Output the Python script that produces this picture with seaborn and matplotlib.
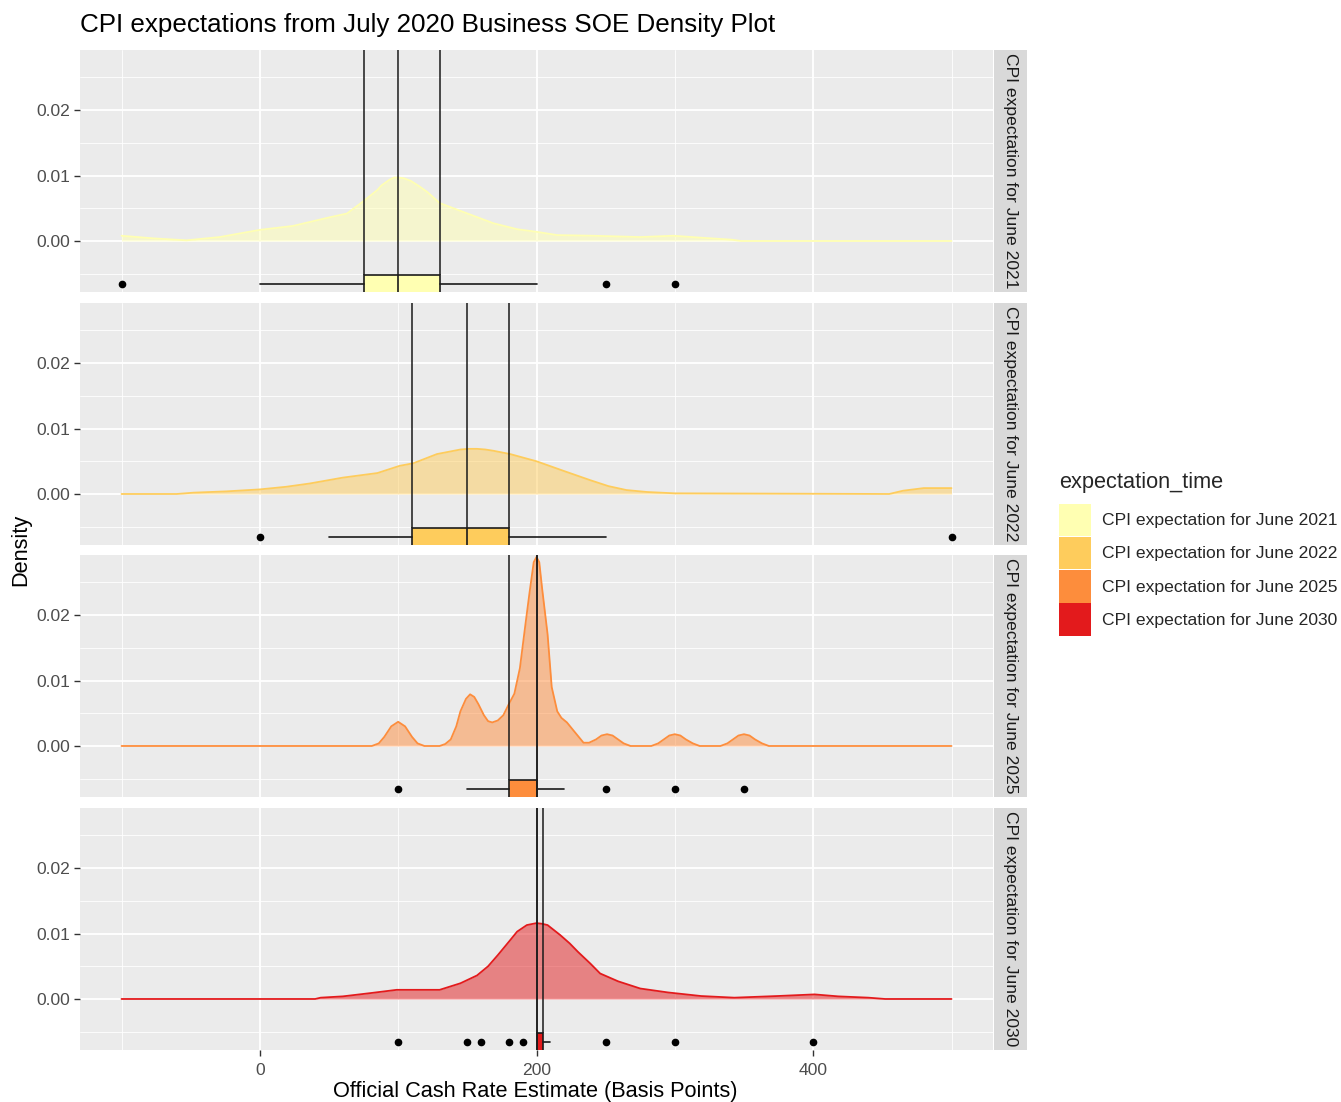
import numpy as np
import pandas as pd
import matplotlib
matplotlib.use('Agg')
import matplotlib.pyplot as plt
from matplotlib.patches import Patch
import seaborn as sns

# density curves (x in basis points, y density)
x_2021 = [-100, -77, -53, -29, 0, 24, 48, 63, 75, 85, 88, 94, 97, 100, 104, 109, 115, 121, 130, 145, 169, 186, 200, 215, 241, 275, 299, 319, 341, 348, 400, 500]
d_2021 = [0.0008, 0.0004, 0.0001, 0.0006, 0.0017, 0.0023, 0.0035, 0.0042, 0.0061, 0.0078, 0.0085, 0.0094, 0.0097, 0.0097, 0.0096, 0.0092, 0.0084, 0.0075, 0.0058, 0.0046, 0.0027, 0.0018, 0.0014, 0.0009, 0.0008, 0.0006, 0.0008, 0.0005, 0.0002, 0.0, 0.0, 0.0]

x_2022 = [-100, -60, -48, -24, 0, 19, 36, 60, 85, 101, 111, 128, 145, 151, 157, 163, 169, 181, 200, 220, 239, 252, 265, 280, 300, 455, 465, 480, 500]
d_2022 = [0.0, 0.0, 0.0002, 0.0004, 0.0007, 0.0011, 0.0016, 0.0025, 0.0032, 0.0043, 0.0047, 0.0061, 0.0068, 0.0069, 0.0069, 0.0068, 0.0066, 0.0061, 0.0050, 0.0035, 0.0021, 0.0012, 0.0006, 0.0003, 0.0001, 0.0, 0.0005, 0.0009, 0.0009]

x_2025 = [-100, 81, 86, 90, 95, 100, 105, 110, 114, 119,
          130, 134, 138, 142, 145, 149, 152, 155, 158, 162, 165, 168, 172, 176, 180, 184, 188, 192, 195, 198, 200,
          202, 204, 208, 211, 215, 218, 222, 227, 234, 238,
          243, 247, 251, 255, 259, 263, 268,
          283, 288, 292, 296, 300, 304, 308, 313, 318,
          333, 338, 342, 346, 350, 354, 358, 363, 368, 500]
d_2025 = [0.0, 0.0, 0.0004, 0.0014, 0.0030, 0.0037, 0.0030, 0.0014, 0.0004, 0.0,
          0.0, 0.0003, 0.0010, 0.0030, 0.0053, 0.0072, 0.0079, 0.0075, 0.0064, 0.0047, 0.0038, 0.0036, 0.0039, 0.0047, 0.0064, 0.0080, 0.0119, 0.0186, 0.0235, 0.0281, 0.0289,
          0.0281, 0.0242, 0.0171, 0.0090, 0.0053, 0.0043, 0.0036, 0.0023, 0.0005, 0.0005,
          0.0010, 0.0016, 0.0018, 0.0016, 0.0010, 0.0004, 0.0,
          0.0, 0.0004, 0.0010, 0.0016, 0.0018, 0.0016, 0.0010, 0.0004, 0.0,
          0.0, 0.0004, 0.0010, 0.0016, 0.0018, 0.0016, 0.0010, 0.0004, 0.0, 0.0]

x_2030 = [-100, 40, 44, 60, 80, 99, 130, 145, 157, 165, 172, 181, 186, 193, 200, 204, 208, 217, 224, 230, 239, 246, 259, 275, 295, 319, 343, 374, 401, 418, 440, 452, 500]
d_2030 = [0.0, 0.0, 0.0002, 0.0004, 0.0009, 0.0014, 0.0014, 0.0024, 0.0036, 0.0050, 0.0067, 0.0090, 0.0103, 0.0113, 0.0116, 0.0115, 0.0113, 0.0098, 0.0085, 0.0072, 0.0054, 0.0039, 0.0027, 0.0016, 0.0010, 0.00045, 0.0002, 0.00045, 0.0007, 0.0004, 0.0002, 0.0, 0.0]

# boxplot summaries: q1, median, q3, whisker low, whisker high, outliers
box_q1 = [75, 110, 180, 200]
box_med = [100, 150, 200, 200]
box_q3 = [130, 180, 200, 205]
box_lo = [0, 50, 150, 200]
box_hi = [200, 250, 220, 210]
box_out = [[-100, 250, 300],
           [0, 500],
           [100, 250, 300, 350],
           [100, 150, 160, 180, 190, 250, 300, 400]]

labels = ['CPI expectation for June 2021', 'CPI expectation for June 2022',
          'CPI expectation for June 2025', 'CPI expectation for June 2030']
colors = ['#FFFFB2', '#FECC5C', '#FD8D3C', '#E31A1C']
xs = [x_2021, x_2022, x_2025, x_2030]
ds = [d_2021, d_2022, d_2025, d_2030]

sns.set_theme(style='darkgrid')
plt.rcParams['font.family'] = ['Liberation Sans', 'DejaVu Sans']

W, H = 1341, 1102
fig = plt.figure(figsize=(W / 100, H / 100), dpi=100, facecolor='white')

ylim = (-0.0078, 0.0292)
box_y = -0.0066
box_w = 0.0028
panel_tops = [50, 303, 555, 808]
ph = 242

for i in range(4):
    top = panel_tops[i]
    ax = fig.add_axes([80 / W, 1 - (top + ph) / H, (993 - 80) / W, ph / H])
    ax.set_facecolor('#EBEBEB')
    for s in ax.spines.values():
        s.set_visible(False)

    df = pd.DataFrame({'x': xs[i], 'density': ds[i]})
    ax.fill_between(df['x'], df['density'], 0, color=colors[i], alpha=0.5, lw=0, zorder=2)
    sns.lineplot(data=df, x='x', y='density', ax=ax, color=colors[i], lw=1.3, zorder=3)

    # boxplot below the density
    stats = [dict(med=box_med[i], q1=box_q1[i], q3=box_q3[i],
                  whislo=box_lo[i], whishi=box_hi[i], fliers=box_out[i])]
    ax.bxp(stats, positions=[box_y], widths=box_w, orientation='horizontal',
           patch_artist=True, showcaps=False, manage_ticks=False,
           boxprops=dict(facecolor=colors[i], edgecolor='#1A1A1A', lw=1.2),
           medianprops=dict(color='#1A1A1A', lw=1.2),
           whiskerprops=dict(color='#1A1A1A', lw=1.2),
           flierprops=dict(marker='o', markersize=4.5, markerfacecolor='black',
                           markeredgecolor='black'))
    ax.vlines([box_q1[i], box_med[i], box_q3[i]], box_y + box_w / 2, ylim[1],
              color='#1A1A1A', lw=1.1, zorder=4)

    ax.set_xlim(-130, 530)
    ax.set_ylim(*ylim)
    ax.set_xticks([0, 200, 400])
    ax.set_xticks([-100, 100, 300, 500], minor=True)
    ax.set_yticks([0, 0.01, 0.02])
    ax.set_yticks([-0.005, 0.005, 0.015, 0.025], minor=True)
    ax.set_yticklabels(['0.00', '0.01', '0.02'])
    ax.grid(which='major', color='white', lw=1.3)
    ax.grid(which='minor', color='white', lw=0.6)
    ax.tick_params(which='minor', length=0)
    ax.tick_params(axis='y', which='major', length=4, width=1, color='#333333',
                   labelsize=12.6, labelcolor='#4D4D4D', pad=3, left=True)
    ax.set_xlabel('')
    ax.set_ylabel('')
    if i < 3:
        ax.tick_params(axis='x', which='major', length=0, labelbottom=False)
    else:
        ax.tick_params(axis='x', which='major', length=4, width=1, color='#333333',
                       labelsize=12.6, labelcolor='#4D4D4D', pad=5.5, bottom=True)

    sax = fig.add_axes([994 / W, 1 - (top + ph) / H, 33 / W, ph / H])
    sax.set_facecolor('#D9D9D9')
    sax.set_xticks([])
    sax.set_yticks([])
    for s in sax.spines.values():
        s.set_visible(False)
    sax.text(0.5, 0.5, labels[i], rotation=-90, ha='center', va='center',
             fontsize=12.6, color='#1A1A1A', transform=sax.transAxes)

fig.text(80 / W, 1 - 25 / H, 'CPI expectations from July 2020 Business SOE Density Plot',
         fontsize=18.7, ha='left', va='center', color='black')
fig.text(535 / W, 1 - 1092 / H, 'Official Cash Rate Estimate (Basis Points)',
         fontsize=15.7, ha='center', va='center', color='black')
fig.text(21 / W, 1 - 550 / H, 'Density', rotation=90,
         fontsize=15.7, ha='center', va='center', color='black')

handles = [Patch(facecolor=c, edgecolor='none') for c in colors]
leg = fig.legend(handles, labels, title='expectation_time', loc='upper left',
                 bbox_to_anchor=(1054 / W, 1 - 467 / H), frameon=False,
                 fontsize=12.6, title_fontsize=15.7, handlelength=1.83,
                 handleheight=2.5, labelspacing=0.02, handletextpad=0.6,
                 borderaxespad=0, borderpad=0.3)
leg._legend_box.align = 'left'
leg._legend_box.sep = 7.5  # gap between legend title and keys

fig.savefig('out.png', dpi=100, facecolor='white')
